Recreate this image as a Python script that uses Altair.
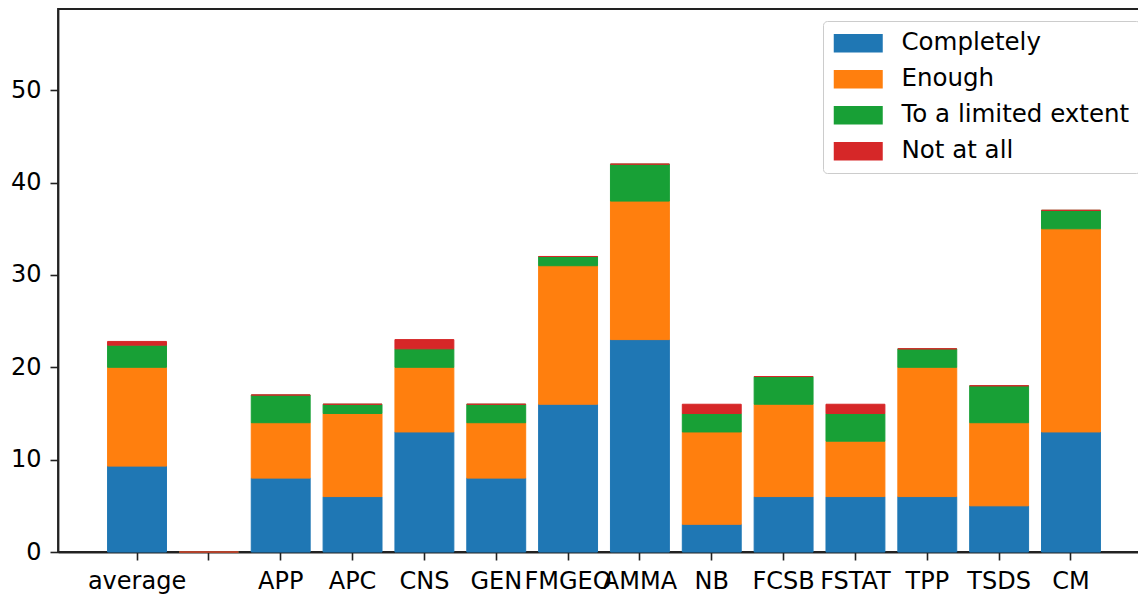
import altair as alt
import pandas as pd

categories = ["average", " ", "APP", "APC", "CNS", "GEN", "FMGEO", "AMMA",
              "NB", "FCSB", "FSTAT", "TPP", "TSDS", "CM"]
series = ["Completely", "Enough", "To a limited extent", "Not at all"]
completely = [9.3, 0, 8, 6, 13, 8, 16, 23, 3, 6, 6, 6, 5, 13]
enough = [10.7, 0, 6, 9, 7, 6, 15, 15, 10, 10, 6, 14, 9, 22]
limited = [2.4, 0, 3, 1, 2, 2, 1, 4, 2, 3, 3, 2, 4, 2]
not_at_all = [0.4, 0, 0, 0, 1, 0, 0, 0, 1, 0, 1, 0, 0, 0]
colors = ["#1f77b4", "#ff7f0e", "#18a036", "#d62728"]
y_ticks = [0, 10, 20, 30, 40, 50]

rows = []
for si, (name, vals) in enumerate(zip(series, [completely, enough, limited, not_at_all])):
    for c, v in zip(categories, vals):
        rows.append({"category": c, "series": name, "value": v, "order": si})
df = pd.DataFrame(rows)

FONT = "DejaVu Sans"
FS = 24
color_scale = alt.Scale(domain=series, range=colors)

chart = alt.Chart(df).mark_bar(strokeWidth=1).encode(
    x=alt.X("category:N", sort=categories,
            scale=alt.Scale(paddingInner=0.18, paddingOuter=0.69),
            axis=alt.Axis(title=None, labelAngle=0, labelOverlap=False,
                          tickSize=8, tickWidth=1.6, tickColor="#222",
                          labelPadding=9, labelFontSize=FS, labelFont=FONT,
                          labelColor="#000", domainColor="#222", domainWidth=1.8,
                          labelBound=False, labelFlush=False)),
    y=alt.Y("value:Q", stack="zero",
            scale=alt.Scale(domain=[0, 58.8], nice=False, zero=True),
            axis=alt.Axis(title=None, values=y_ticks, grid=False,
                          tickSize=8, tickWidth=1.6, tickColor="#222",
                          labelPadding=9, labelFontSize=FS, labelFont=FONT,
                          labelColor="#000", domainColor="#222", domainWidth=1.8)),
    color=alt.Color("series:N", sort=series, scale=color_scale,
                    legend=alt.Legend(
                        title=None, orient="none", legendX=765, legendY=12,
                        symbolType="M-2.45,-0.92L2.45,-0.92L2.45,0.92L-2.45,0.92Z",
                        symbolSize=400, symbolStrokeWidth=0, symbolOffset=13,
                        labelOffset=31, labelFontSize=24.5, labelFont=FONT,
                        labelColor="#000", labelLimit=500, rowPadding=11,
                        padding=10, strokeColor="#cccccc",
                        fillColor="rgba(255,255,255,0.8)", cornerRadius=4)),
    stroke=alt.Stroke("series:N", sort=series, scale=color_scale, legend=None),
    order=alt.Order("order:Q", sort="ascending"),
).properties(
    width=1092, height=543,
    autosize=alt.AutoSizeParams(type="none"),
    padding={"left": 50, "top": 1, "right": -12, "bottom": 44},
).configure(
    font=FONT, background="white"
).configure_view(
    stroke="#222", strokeWidth=1.8
)

chart.save("out.html", embed_options={"renderer": "svg", "actions": False})
